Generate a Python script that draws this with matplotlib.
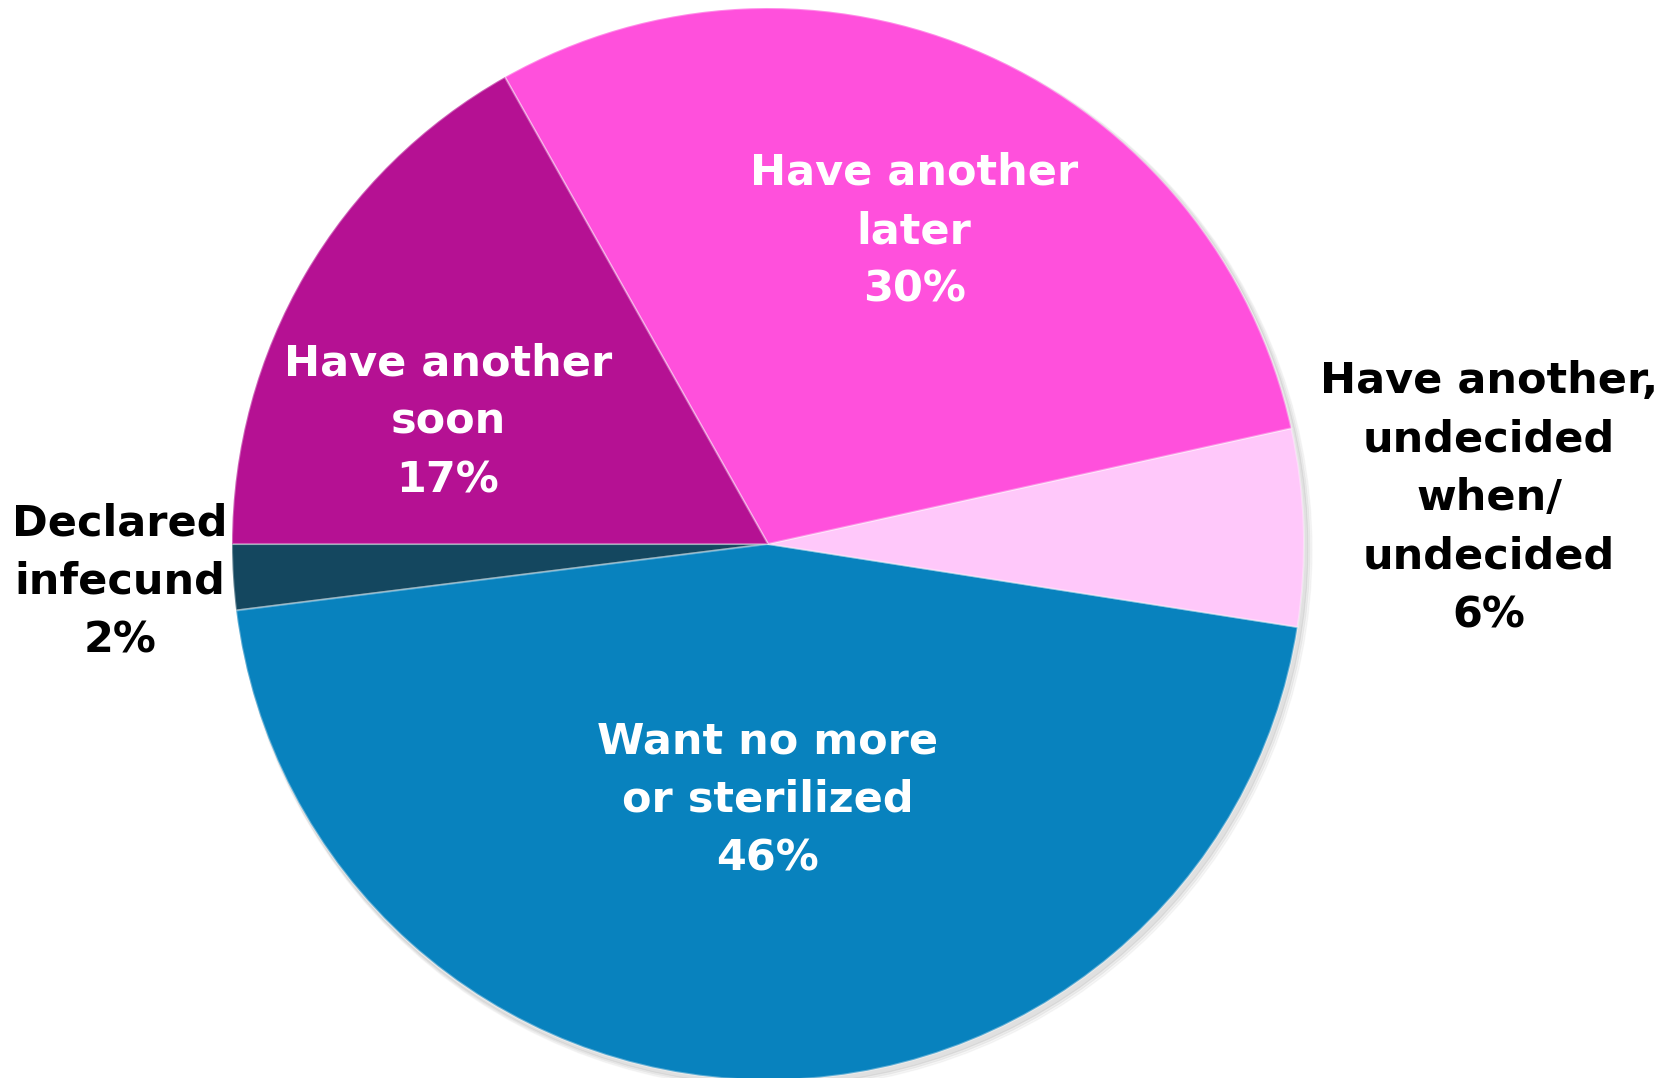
import matplotlib
matplotlib.use("Agg")
import matplotlib.pyplot as plt

categories = ["Declared infecund", "Want no more or sterilized",
              "Have another, undecided when/ undecided",
              "Have another later", "Have another soon"]
values = [2, 46, 6, 30, 17]
label_texts = ["Declared\ninfecund\n2%", "Want no more\nor sterilized\n46%",
               "Have another,\nundecided\nwhen/\nundecided\n6%",
               "Have another\nlater\n30%", "Have another\nsoon\n17%"]
colors = ["#14475F", "#0882BE", "#FFC8FA", "#FF50DC", "#B51193"]
text_colors = ["black", "white", "black", "white", "white"]

W, H = 1662, 1078
fig = plt.figure(figsize=(W / 100, H / 100), dpi=100)
ax = fig.add_axes([0, 0, 1, 1])
ax.set_xlim(0, W)
ax.set_ylim(0, H)
ax.set_aspect("equal")
ax.axis("off")

cx, cy, R = 768, H - 544, 536

# soft shadow
for i, a in enumerate([0.05, 0.04, 0.03]):
    sh = plt.Circle((cx + 3 + i, cy - 4 - i), R + 1 + i, color="black", alpha=a, zorder=0)
    ax.add_patch(sh)

wedges, _ = ax.pie(values, colors=colors, startangle=180, counterclock=True,
                   center=(cx, cy), radius=R, normalize=True,
                   wedgeprops=dict(edgecolor=(1, 1, 1, 0.35), linewidth=1.5))
for w in wedges:
    w.set_zorder(2)
ax.set_xlim(0, W)
ax.set_ylim(0, H)

# label positions (pixel coordinates, y from top)
label_pos = [(120, 582), (768, 800), (1489, 498), (914, 231), (448, 422)]
for txt, (x, y), c in zip(label_texts, label_pos, text_colors):
    ax.text(x, H - y, txt, ha="center", va="center", color=c,
            fontsize=31, fontweight="bold", family="DejaVu Sans",
            linespacing=1.5, zorder=5)

fig.savefig("out.png", dpi=100)
